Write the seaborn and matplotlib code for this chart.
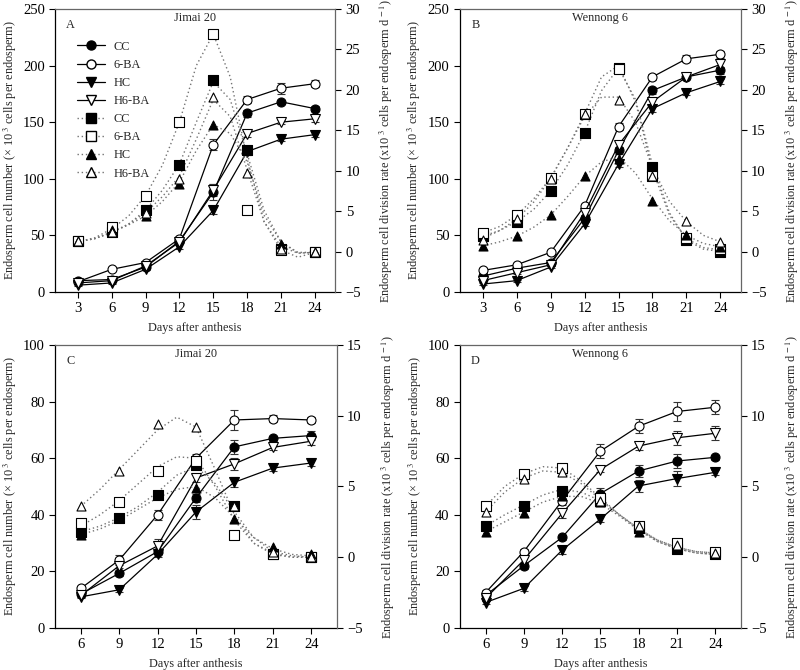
import matplotlib
matplotlib.use("Agg")
import matplotlib.pyplot as plt
import seaborn as sns
import numpy as np
from matplotlib.lines import Line2D

sns.set_theme(style="ticks")
plt.rcParams["font.family"] = ["Liberation Serif", "DejaVu Serif"]
plt.rcParams["mathtext.fontset"] = "stix"

treatments = ["CC", "6-BA", "HC", "H6-BA"]

days_ab = [3, 6, 9, 12, 15, 18, 21, 24]
days_cd = [6, 9, 12, 15, 18, 21, 24]
fit_x_ab = [3, 4.5, 6, 7.5, 9, 10.5, 12, 13.5, 15, 16.5, 18, 19.5, 21, 22.5, 24]
fit_x_cd = [6, 7.5, 9, 10.5, 12, 13.5, 15, 16.5, 18, 19.5, 21, 22.5, 24]

# panel A - Jimai 20
num_a = {"CC": [10, 11, 22, 45, 88, 158, 168, 162],
         "6-BA": [9, 20, 26, 47, 130, 170, 180, 184],
         "HC": [6, 8, 20, 40, 72, 124, 135, 139],
         "H6-BA": [8, 10, 23, 44, 90, 140, 150, 153]}
err_a = {"CC": [1, 1, 1, 2, 7, 3, 2, 2],
         "6-BA": [1, 1, 1, 2, 5, 3, 5, 3],
         "HC": [1, 1, 1, 2, 3, 3, 2, 2],
         "H6-BA": [1, 1, 1, 2, 5, 3, 2, 3]}
rate_a = {"CC": [1.3, 2.4, 5.1, 10.7, 21.2, 12.5, 0.3, 0.0],
          "6-BA": [1.3, 3.0, 6.9, 16.0, 26.9, 5.2, 0.2, 0.0],
          "HC": [1.3, 2.7, 4.4, 8.4, 15.6, 12.5, 0.9, 0.0],
          "H6-BA": [1.3, 2.4, 4.8, 9.0, 19.1, 9.7, 0.3, 0.0]}
fit_a = {"CC": [1.2, 1.6, 2.3, 3.4, 5.1, 7.6, 10.8, 16.0, 21.0, 18.8, 12.1, 5.1, 1.2, -0.2, -0.1],
         "6-BA": [1.2, 1.7, 2.8, 4.4, 6.9, 10.7, 16.0, 23.0, 26.9, 21.6, 11.5, 3.7, 0.2, -0.7, -0.1],
         "HC": [1.2, 1.6, 2.4, 3.3, 4.4, 6.2, 8.6, 12.5, 15.7, 14.6, 11.1, 4.5, 1.2, -0.1, -0.1],
         "H6-BA": [1.2, 1.6, 2.4, 3.4, 4.8, 6.8, 9.3, 13.9, 18.8, 16.7, 10.1, 3.7, 0.6, -0.2, -0.1]}

# panel B - Wennong 6
num_b = {"CC": [14, 21, 26, 65, 125, 178, 190, 196],
         "6-BA": [19, 24, 35, 76, 146, 190, 206, 210],
         "HC": [7, 10, 22, 60, 113, 162, 176, 186],
         "H6-BA": [10, 17, 24, 70, 130, 168, 190, 201]}
err_b = {"CC": [1, 1, 1, 2, 3, 3, 2, 3],
         "6-BA": [2, 2, 2, 2, 3, 3, 3, 3],
         "HC": [1, 1, 1, 2, 3, 3, 2, 2],
         "H6-BA": [1, 1, 1, 2, 3, 3, 2, 3]}
rate_b = {"CC": [1.9, 3.7, 7.5, 14.7, 22.7, 10.5, 1.4, 0.0],
          "6-BA": [2.3, 4.5, 9.1, 17.0, 22.6, 9.4, 1.7, 0.3],
          "HC": [0.7, 1.9, 4.5, 9.3, 11.4, 6.2, 2.0, 0.6],
          "H6-BA": [1.4, 4.0, 9.0, 17.0, 18.7, 9.4, 3.8, 1.2]}
fit_b = {"CC": [1.9, 2.6, 3.7, 5.2, 7.5, 10.7, 14.7, 19.9, 22.7, 18.8, 10.7, 4.8, 1.4, 0.3, 0.0],
         "6-BA": [2.3, 3.1, 4.5, 6.5, 9.1, 12.8, 17.0, 21.6, 23.0, 18.5, 10.1, 4.5, 1.6, 0.5, 0.2],
         "HC": [0.7, 1.2, 1.9, 3.0, 4.5, 6.8, 9.3, 11.1, 11.7, 9.7, 6.5, 3.8, 2.0, 1.0, 0.6],
         "H6-BA": [1.6, 2.6, 4.0, 6.1, 9.0, 12.8, 16.7, 19.1, 19.1, 16.0, 10.4, 6.2, 3.7, 2.0, 1.2]}

# panel C - Jimai 20
num_c = {"CC": [12, 19.3, 27, 46, 64, 67, 68],
         "6-BA": [14, 24, 40, 60, 73.5, 74, 73.5],
         "HC": [11, 13.5, 26, 41, 51.5, 56.5, 58.3],
         "H6-BA": [11.5, 22, 29, 53, 58, 63.8, 66]}
err_c = {"CC": [0.5, 0.8, 1, 1.5, 2.5, 1, 1.5],
         "6-BA": [0.8, 1.8, 1.8, 1.5, 3.5, 1.2, 1],
         "HC": [0.5, 0.8, 1, 2.5, 1.8, 1, 1.2],
         "H6-BA": [0.5, 0.8, 2.5, 1.5, 2, 1, 1.2]}
rate_c = {"CC": [1.8, 2.8, 4.4, 6.5, 3.6, 0.2, 0.0],
          "6-BA": [2.4, 3.9, 6.1, 6.8, 1.6, 0.2, 0.0],
          "HC": [1.6, 2.8, 4.4, 4.9, 2.7, 0.7, 0.2],
          "H6-BA": [3.6, 6.1, 9.4, 9.2, 3.6, 0.4, 0.0]}
fit_c = {"CC": [1.8, 2.2, 2.8, 3.6, 4.6, 5.8, 6.4, 5.2, 3.2, 1.4, 0.4, 0.1, 0.0],
         "6-BA": [2.2, 3.0, 4.0, 5.2, 6.4, 7.1, 7.0, 5.0, 2.6, 1.0, 0.2, 0.0, 0.0],
         "HC": [1.6, 2.0, 2.6, 3.4, 4.2, 4.8, 5.0, 4.2, 2.8, 1.4, 0.6, 0.2, 0.1],
         "H6-BA": [3.6, 4.8, 6.2, 7.6, 9.0, 9.9, 9.2, 6.2, 3.0, 1.0, 0.3, 0.0, 0.0]}

# panel D - Wennong 6
num_d = {"CC": [11.5, 22, 32, 47.5, 55.5, 59, 60.3],
         "6-BA": [12.5, 27, 45, 62.5, 71.3, 76.5, 78],
         "HC": [9, 14, 27.5, 38.5, 50.2, 52.8, 55],
         "H6-BA": [10.5, 24, 40.5, 56, 64.3, 67.2, 68.8]}
err_d = {"CC": [0.8, 1, 1, 2, 2, 2.5, 1],
         "6-BA": [1, 1, 1.5, 2.5, 2.5, 3.5, 2.5],
         "HC": [0.5, 0.8, 1.5, 1, 2, 2.5, 1],
         "H6-BA": [0.8, 1, 1.5, 1, 1.5, 2.5, 2.5]}
rate_d = {"CC": [2.2, 3.6, 4.7, 4.0, 2.1, 0.6, 0.2],
          "6-BA": [3.6, 5.9, 6.3, 4.2, 2.2, 1.0, 0.4],
          "HC": [1.8, 3.1, 4.3, 3.9, 1.8, 0.7, 0.2],
          "H6-BA": [3.2, 5.5, 6.0, 4.0, 2.2, 0.9, 0.3]}
fit_d = {"CC": [2.2, 3.0, 3.7, 4.4, 4.8, 4.6, 4.0, 3.0, 2.0, 1.1, 0.6, 0.3, 0.2],
         "6-BA": [3.6, 5.0, 5.9, 6.4, 6.3, 5.4, 4.2, 3.0, 2.0, 1.2, 0.7, 0.4, 0.3],
         "HC": [1.8, 2.5, 3.2, 3.9, 4.3, 4.3, 3.8, 2.9, 1.9, 1.1, 0.6, 0.3, 0.2],
         "H6-BA": [3.2, 4.6, 5.6, 6.1, 6.0, 5.2, 4.1, 3.0, 2.0, 1.2, 0.7, 0.4, 0.3]}

num_marker = {"CC": ("o", "black"), "6-BA": ("o", "white"),
              "HC": ("v", "black"), "H6-BA": ("v", "white")}
rate_marker = {"CC": ("s", "black"), "6-BA": ("s", "white"),
               "HC": ("^", "black"), "H6-BA": ("^", "white")}

TICK_FS = 10.5
LABEL_FS = 8.8
left_label = "Endosperm cell number (× 10$^{\\ 3}$ cells per endosperm)"
right_label = "Endosperm cell division rate (x10$^{\\ 3}$ cells per endosperm d$^{\\ -1}$)"


def draw_panel(ax, days, num, err, rate, fit_x, fit, xlim, xticks,
               ylim, yticks, rlim, rticks, title, letter):
    ax2 = ax.twinx()
    for t in treatments:
        sns.lineplot(x=fit_x, y=fit[t], ax=ax2, color="0.45",
                     linestyle=(0, (1, 2)), linewidth=1.0)
    for t in treatments:
        m, fc = num_marker[t]
        ax.errorbar(days, num[t], yerr=err[t], fmt="none", ecolor="0.2",
                    elinewidth=0.8, capsize=3, capthick=0.8, zorder=2)
        sns.lineplot(x=days, y=num[t], ax=ax, color="black", linewidth=0.9,
                     marker=m, markersize=6.5, markerfacecolor=fc,
                     markeredgecolor="black", markeredgewidth=0.8, zorder=3)
    for t in treatments:
        m, fc = rate_marker[t]
        sns.scatterplot(x=days, y=rate[t], ax=ax2, marker=m, s=42,
                        color=fc, edgecolor="black", linewidth=0.8, zorder=4)

    ax.set_xlim(*xlim)
    ax.set_xticks(xticks)
    ax.set_ylim(*ylim)
    ax.set_yticks(yticks)
    ax2.set_ylim(*rlim)
    ax2.set_yticks(rticks)
    ax.set_xlabel("Days after anthesis", fontsize=LABEL_FS, labelpad=5)
    ax.set_ylabel(left_label, fontsize=LABEL_FS, labelpad=3)
    ax2.set_ylabel(right_label, fontsize=LABEL_FS, rotation=90, labelpad=12)
    for a in (ax, ax2):
        a.tick_params(direction="out", length=4, width=0.8,
                      labelsize=TICK_FS, colors="black")
        a.grid(False)
    for s in ("left", "bottom"):
        ax.spines[s].set_color("black")
        ax.spines[s].set_linewidth(0.9)
    for s in ("right", "top"):
        ax2.spines[s].set_color("0.4")
        ax2.spines[s].set_linewidth(0.9)
        ax.spines[s].set_visible(False)
    ax2.spines["left"].set_visible(False)
    ax2.spines["bottom"].set_visible(False)
    ax.text(0.5, 0.99, title, transform=ax.transAxes, ha="center",
            va="top", fontsize=LABEL_FS)
    ax.text(0.055, 0.965, letter, transform=ax.transAxes, ha="center",
            va="top", fontsize=LABEL_FS)
    return ax2


fig = plt.figure(figsize=(8, 6.7), dpi=100)
ax_a = fig.add_axes([0.069, 0.5642, 0.35, 0.4224])
ax_b = fig.add_axes([0.575, 0.5642, 0.351, 0.4224])
ax_c = fig.add_axes([0.069, 0.0627, 0.352, 0.4224])
ax_d = fig.add_axes([0.575, 0.0627, 0.351, 0.4224])

ticks_ab = [3, 6, 9, 12, 15, 18, 21, 24]
ticks_cd = [6, 9, 12, 15, 18, 21, 24]

draw_panel(ax_a, days_ab, num_a, err_a, rate_a, fit_x_ab, fit_a, (1, 25.8),
           ticks_ab, (0, 250), range(0, 251, 50), (-5, 30), range(-5, 31, 5),
           "Jimai 20", "A")
draw_panel(ax_b, days_ab, num_b, err_b, rate_b, fit_x_ab, fit_b, (1, 25.8),
           ticks_ab, (0, 250), range(0, 251, 50), (-5, 30), range(-5, 31, 5),
           "Wennong 6", "B")
draw_panel(ax_c, days_cd, num_c, err_c, rate_c, fit_x_cd, fit_c, (4, 26),
           ticks_cd, (0, 100), range(0, 101, 20), (-5, 15), range(-5, 16, 5),
           "Jimai 20", "C")
draw_panel(ax_d, days_cd, num_d, err_d, rate_d, fit_x_cd, fit_d, (4, 26),
           ticks_cd, (0, 100), range(0, 101, 20), (-5, 15), range(-5, 16, 5),
           "Wennong 6", "D")

handles = []
for t in treatments:
    m, fc = num_marker[t]
    handles.append(Line2D([], [], color="black", lw=0.9, marker=m,
                          markersize=6.5, markerfacecolor=fc,
                          markeredgecolor="black", label=t))
for t in treatments:
    m, fc = rate_marker[t]
    handles.append(Line2D([], [], color="0.45", lw=1.0, ls=(0, (1, 2)),
                          marker=m, markersize=6.5, markerfacecolor=fc,
                          markeredgecolor="black", label=t))
leg = ax_a.legend(handles=handles, loc="upper left",
                  bbox_to_anchor=(0.06, 0.905), frameon=False, fontsize=8.8,
                  handlelength=2.3, labelspacing=0.5, borderaxespad=0,
                  handletextpad=0.7)
leg.set_zorder(10)

fig.savefig("out.png", dpi=100)
